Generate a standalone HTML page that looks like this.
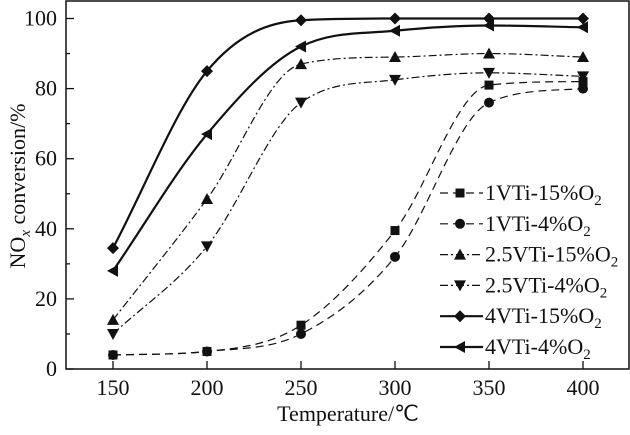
<!DOCTYPE html>
<html><head><meta charset="utf-8"><style>
html,body{margin:0;padding:0;background:#fff;}
svg text{font-family:"Liberation Serif",serif;fill:#111;}
</style></head><body>
<svg id="chart" width="630" height="430" viewBox="0 0 630 430" xmlns="http://www.w3.org/2000/svg">
<rect x="66" y="1" width="563" height="368" fill="none" stroke="#111" stroke-width="1.5"/>
<g id="ticks"></g>
<g id="series"></g>
<g id="legend"></g>
<text x="348" y="421" font-size="22" text-anchor="middle">Temperature/℃</text>
<g transform="translate(25,186) rotate(-90)">
<text x="0" y="0" font-size="22" text-anchor="middle">NO<tspan font-style="italic" font-size="15" dy="5">x</tspan><tspan dy="-5"> conversion/%</tspan></text>
</g>
</svg>
<script>
const temps=[150,200,250,300,350,400];
const xTicks=[150,200,250,300,350,400];
const yTicks=[0,20,40,60,80,100];
const s1VTi15=[4,5,12.5,39.5,81,82];
const s1VTi4=[4,5,10,32,76,80];
const s25VTi15=[14,48.5,87,89,90,89];
const s25VTi4=[10,35,76,82.5,84.5,83.5];
const s4VTi15=[34.5,85,99.5,100,100,100];
const s4VTi4=[28,67,92,96.5,98,97.5];
const names=["1VTi-15%O","1VTi-4%O","2.5VTi-15%O","2.5VTi-4%O","4VTi-15%O","4VTi-4%O"];
const NS="http://www.w3.org/2000/svg";
const X=v=>113+(v-150)*470/250;
const Y=v=>369-v*3.505;
function mk(t,a,p){const e=document.createElementNS(NS,t);for(const k in a)e.setAttribute(k,a[k]);p.appendChild(e);return e;}
const tg=document.getElementById('ticks');
xTicks.forEach(v=>{
 const l=mk('line',{x1:X(v),x2:X(v),y1:369,y2:361,stroke:'#111','stroke-width':1.3},tg);
 
 
 const t=mk('text',{x:X(v),y:395,'font-size':22,'text-anchor':'middle'},tg);t.textContent=v;
 
 
});
for(let v=0;v<=100;v+=10){
 const major=v%20===0;
 const l=mk('line',{x1:66,x2:66+(major?8:4),y1:Y(v),y2:Y(v),stroke:'#111','stroke-width':1.3},tg);
 
 
}
yTicks.forEach(v=>{
 const t=mk('text',{x:57,y:Y(v)+7,'font-size':22,'text-anchor':'end'},tg);t.textContent=v;
 
 
});
function marker(type,x,y,p){
 let e;
 if(type==='square')e=mk('rect',{x:x-4.5,y:y-4.5,width:9,height:9},p);
 else if(type==='circle')e=mk('circle',{cx:x,cy:y,r:5},p);
 else if(type==='up')e=mk('polygon',{points:`${x},${y-6} ${x-6},${y+5} ${x+6},${y+5}`},p);
 else if(type==='down')e=mk('polygon',{points:`${x},${y+6} ${x-6},${y-5} ${x+6},${y-5}`},p);
 else if(type==='diamond')e=mk('polygon',{points:`${x},${y-6} ${x+6},${y} ${x},${y+6} ${x-6},${y}`},p);
 else e=mk('polygon',{points:`${x-6},${y} ${x+5},${y-6} ${x+5},${y+6}`},p);
 e.setAttribute('fill','#111');
 return e;
}
function smooth(pts){
 const n=pts.length,dx=[],m=[],t=[];
 for(let i=0;i<n-1;i++){dx.push(pts[i+1][0]-pts[i][0]);m.push((pts[i+1][1]-pts[i][1])/dx[i]);}
 t[0]=m[0];t[n-1]=m[n-2];
 for(let i=1;i<n-1;i++){t[i]=(m[i-1]*m[i]<=0)?0:(m[i-1]+m[i])/2;}
 for(let i=0;i<n-1;i++){
  if(m[i]===0){t[i]=0;t[i+1]=0;continue;}
  const a=t[i]/m[i],b=t[i+1]/m[i],h=a*a+b*b;
  if(h>9){const s=3/Math.sqrt(h);t[i]=s*a*m[i];t[i+1]=s*b*m[i];}
 }
 let d=`M${pts[0][0]},${pts[0][1]}`;
 for(let i=0;i<n-1;i++){
  const h=dx[i]/3;
  d+=` C${pts[i][0]+h},${pts[i][1]+t[i]*h} ${pts[i+1][0]-h},${pts[i+1][1]-t[i+1]*h} ${pts[i+1][0]},${pts[i+1][1]}`;
 }
 return d;
}
const series=[
 {v:s1VTi15,m:'square',dash:'8,5',w:1.2,id:'1vti-15'},
 {v:s1VTi4,m:'circle',dash:'8,5',w:1.2,id:'1vti-4'},
 {v:s25VTi15,m:'up',dash:'8,3,2,3',w:1.2,id:'2-5vti-15'},
 {v:s25VTi4,m:'down',dash:'8,3,2,3',w:1.2,id:'2-5vti-4'},
 {v:s4VTi15,m:'diamond',dash:'none',w:2.2,id:'4vti-15'},
 {v:s4VTi4,m:'left',dash:'none',w:2.2,id:'4vti-4'}
];
const sg=document.getElementById('series');
const lg=document.getElementById('legend');
series.forEach((s,i)=>{
 const g=mk('g',{},sg);
 
 
 const pts=temps.map((t,j)=>[X(t),Y(s.v[j])]);
 const path=mk('path',{d:smooth(pts),fill:'none',stroke:'#111','stroke-width':s.w,'stroke-dasharray':s.dash},g);
 
 
 pts.forEach(p=>{const m=marker(s.m,p[0],p[1],g);
  
  });
 const ly=193+i*30.8;
 const le=mk('g',{},lg);
 
 
 mk('line',{x1:440,x2:483,y1:ly,y2:ly,stroke:'#111','stroke-width':s.w,'stroke-dasharray':s.dash},le);
 marker(s.m,460,ly,le);
 const t=mk('text',{x:485,y:ly+7,'font-size':22},le);
 t.textContent=names[i];
 const sub=mk('tspan',{'font-size':15,dy:5},t);sub.textContent='2';
});
</script>
</body></html>
